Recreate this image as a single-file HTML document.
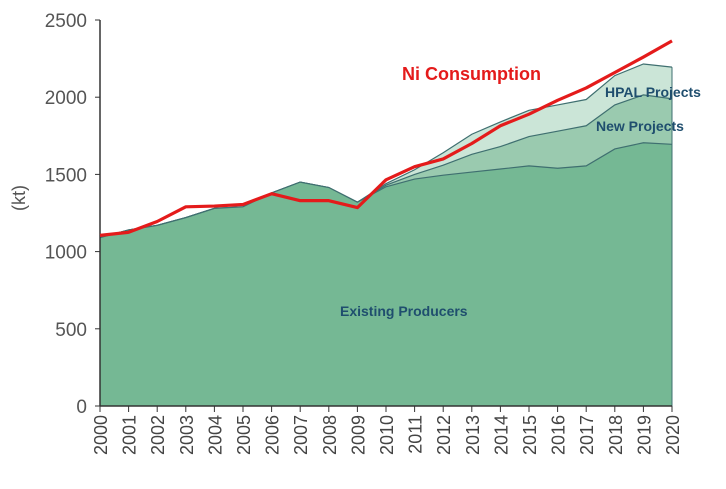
<!DOCTYPE html>
<html><head><meta charset="utf-8"><style>
body{margin:0;background:#fff}
svg text{font-family:"Liberation Sans",Arial,sans-serif}
</style></head><body>
<svg id="c" width="726" height="484"></svg>
<script>
const years=[2000,2001,2002,2003,2004,2005,2006,2007,2008,2009,2010,2011,2012,2013,2014,2015,2016,2017,2018,2019,2020];
const existing=[1090,1140,1170,1220,1280,1290,1380,1450,1415,1320,1420,1470,1495,1515,1535,1555,1540,1555,1665,1705,1695];
const newProj=[0,0,0,0,0,0,0,0,0,0,10,30,65,115,145,190,240,260,285,310,295];
const hpal=[0,0,0,0,0,0,0,0,0,0,10,30,80,130,160,170,170,170,190,200,205];
const consumption=[1105,1125,1195,1290,1295,1305,1375,1330,1330,1285,1465,1550,1600,1700,1815,1890,1980,2060,2160,2260,2365];
const yTicks=[0,500,1000,1500,2000,2500];
const NS="http://www.w3.org/2000/svg";
const svg=document.getElementById('c');
const X0=100,X1=672,Y0=406,Y1=20,YMAX=2500;
const xs=i=>X0+(X1-X0)*i/(years.length-1);
const ys=v=>Y0-(Y0-Y1)*v/YMAX;
function mk(t,a){const e=document.createElementNS(NS,t);for(const k in a)e.setAttribute(k,a[k]);svg.appendChild(e);return e;}
const c1=existing.slice();
const c2=c1.map((v,i)=>v+newProj[i]);
const c3=c2.map((v,i)=>v+hpal[i]);
function area(top,bot,fill,name){
  let d='M'+years.map((y,i)=>xs(i)+','+ys(top[i])).join('L');
  for(let i=years.length-1;i>=0;i--)d+='L'+xs(i)+','+ys(bot[i]);
  const p=mk('path',{d:d+'Z',fill:fill,stroke:'none'});
  
  
  const l=mk('polyline',{points:years.map((y,i)=>xs(i)+','+ys(top[i])).join(' '),fill:'none',stroke:'#3f6f70','stroke-width':1.2});
  
  
}
const zero=years.map(()=>0);
area(c3,c2,'#cbe5d7','hpal-projects-area');
area(c2,c1,'#9acaaf','new-projects-area');
area(c1,zero,'#75b894','existing-producers-area');
mk('line',{x1:X1,y1:ys(c3[20]),x2:X1,y2:Y0,stroke:'#3f6f70','stroke-width':1});
// axes
const ax=mk('line',{x1:X0,y1:Y1,x2:X0,y2:Y0,stroke:'#333','stroke-width':1.5});

const bx=mk('line',{x1:X0,y1:Y0,x2:X1,y2:Y0,stroke:'#333','stroke-width':1.5});

yTicks.forEach(v=>{
  mk('line',{x1:X0-5,y1:ys(v),x2:X0,y2:ys(v),stroke:'#333'});
  const t=mk('text',{x:X0-13,y:ys(v)+7,'text-anchor':'end','font-size':19,fill:'#555'});
  t.textContent=v;
  
  
});
years.forEach((y,i)=>{
  mk('line',{x1:xs(i),y1:Y0,x2:xs(i),y2:Y0+6,stroke:'#333'});
  const t=mk('text',{x:0,y:0,'text-anchor':'end','font-size':18,fill:'#444',transform:`translate(${xs(i)+7},${Y0+9}) rotate(-90)`});
  t.textContent=y;
  
  
});
const yt=mk('text',{x:0,y:0,'text-anchor':'middle','font-size':18,fill:'#555',transform:'translate(25,198) rotate(-90)'});
yt.textContent='(kt)';


const ln=mk('polyline',{points:years.map((y,i)=>xs(i)+','+ys(consumption[i])).join(' '),fill:'none',stroke:'#e41b1b','stroke-width':3.2,'stroke-linejoin':'round'});


function lab(x,y,txt,col,sz,name){const t=mk('text',{x:x,y:y,'font-size':sz,'font-weight':'bold',fill:col});t.textContent=txt;
 }
lab(402,80,'Ni Consumption','#e41b1b',18,'ni-consumption-label');
lab(605,97,'HPAL Projects','#1f4e6e',14,'hpal-projects-label');
lab(596,131,'New Projects','#1f4e6e',14,'new-projects-label');
lab(340,316,'Existing Producers','#1f4e6e',14,'existing-producers-label');
</script>
</body></html>
